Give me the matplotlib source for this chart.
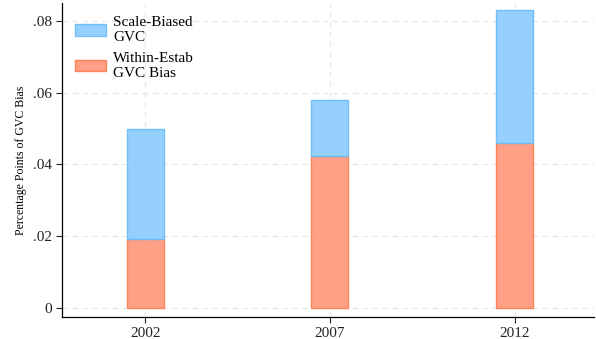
import matplotlib
matplotlib.use('Agg')
import matplotlib.pyplot as plt
import numpy as np

plt.rcParams['font.family'] = ['Liberation Serif', 'DejaVu Serif']

years = [2002, 2007, 2012]
within_estab = [0.0193, 0.0424, 0.0461]
scale_biased = [0.0307, 0.0156, 0.0369]
ytick_values = [0, 0.02, 0.04, 0.06, 0.08]
ytick_labels = ['0', '.02', '.04', '.06', '.08']

fig = plt.figure(figsize=(5.96, 3.39), dpi=100)
ax = fig.add_axes([0.104, 0.065, 0.893, 0.926])

ax.bar(years, within_estab, width=1.0, color='#ff9a7e', edgecolor='#ff7f50',
       linewidth=1.0, alpha=0.95, label='Within-Estab\nGVC Bias', zorder=3)
ax.bar(years, scale_biased, width=1.0, bottom=within_estab, color='#8ecdfd',
       edgecolor='#6bbdf7', linewidth=1.0, alpha=0.95, label='Scale-Biased\nGVC', zorder=3)

ax.set_xlim(1999.75, 2014.15)
ax.set_ylim(-0.0025, 0.085)
ax.set_xticks(years)
ax.set_xticklabels([str(y) for y in years], fontsize=11)
ax.set_yticks(ytick_values)
ax.set_yticklabels(ytick_labels, fontsize=11)
ax.set_ylabel('Percentage Points of GVC Bias', fontsize=8.5, labelpad=4)

ax.grid(True, color='#e6e6e6', linestyle=(0, (5, 4)), linewidth=0.8, zorder=0)
for side in ['top', 'right']:
    ax.spines[side].set_visible(False)
ax.spines['left'].set_linewidth(0.9)
ax.spines['bottom'].set_linewidth(0.9)
ax.tick_params(direction='out', length=4, width=0.8, colors='#222222')

handles, labels = ax.get_legend_handles_labels()
ax.legend(handles[::-1], labels[::-1], loc='upper left', bbox_to_anchor=(0.0, 1.0),
          frameon=False, fontsize=11, handlelength=2.0, handleheight=0.8,
          labelspacing=0.5, handletextpad=0.5, borderaxespad=0.45)

fig.savefig('out.png', dpi=100)
